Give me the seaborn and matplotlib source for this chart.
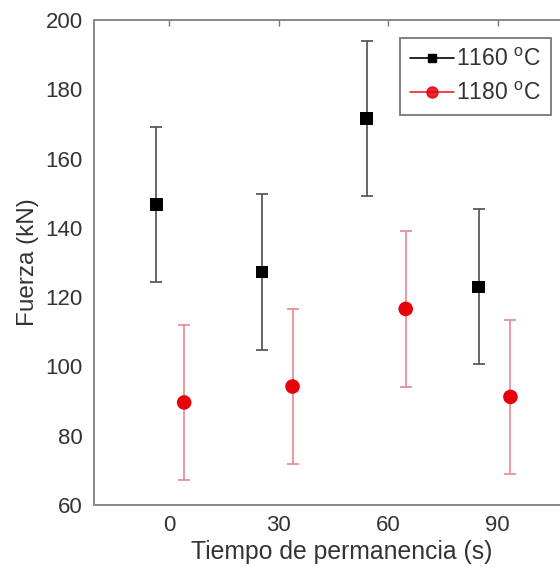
import matplotlib
matplotlib.use("Agg")
import matplotlib.pyplot as plt
from matplotlib.lines import Line2D
import pandas as pd
import seaborn as sns

# values
series = ["1160 $^{\\mathrm{o}}$C", "1180 $^{\\mathrm{o}}$C"]
x_1160 = [-3.5, 25.4, 54.1, 84.8]
y_1160 = [146.8, 127.3, 171.6, 123.0]
err_1160 = [22.4, 22.5, 22.4, 22.4]
x_1180 = [4.1, 33.8, 64.8, 93.5]
y_1180 = [89.6, 94.2, 116.6, 91.2]
err_1180 = [22.4, 22.5, 22.4, 22.3]
x_ticks = [0, 30, 60, 90]
y_ticks = [60, 80, 100, 120, 140, 160, 180, 200]

sns.set_theme(style="white")
plt.rcParams["font.family"] = ["Liberation Sans", "DejaVu Sans"]
plt.rcParams["mathtext.fontset"] = "custom"
plt.rcParams["mathtext.rm"] = "Liberation Sans"

df = pd.DataFrame({
    "t": x_1160 + x_1180,
    "f": y_1160 + y_1180,
    "serie": [series[0]] * 4 + [series[1]] * 4,
})

fig = plt.figure(figsize=(5.6, 5.67), dpi=100)
# the original is cropped: the right spine lies just past the picture edge
ax = fig.add_axes([94 / 560, 62 / 567, 496 / 560, 485 / 567])

# error bars first, markers on top
ax.errorbar(x_1160, y_1160, yerr=err_1160, fmt="none", ecolor="#5a5a5a",
            elinewidth=1.3, capsize=4, capthick=1.3, zorder=2)
ax.errorbar(x_1180, y_1180, yerr=err_1180, fmt="none", ecolor="#e8909a",
            elinewidth=1.3, capsize=4, capthick=1.3, zorder=2)

sns.scatterplot(data=df, x="t", y="f", hue="serie", style="serie", size="serie",
                palette={series[0]: "#000000", series[1]: "#e8000b"},
                markers={series[0]: "s", series[1]: "o"},
                sizes={series[0]: 80, series[1]: 110},
                linewidth=0, legend=False, ax=ax, zorder=3)

ax.set_xlim(-20.6, 115.3)
ax.set_ylim(60, 200)
ax.set_xticks(x_ticks)
ax.set_yticks(y_ticks)
ax.tick_params(direction="in", length=4, width=1, color="#777777",
               labelsize=16, labelcolor="#333333", top=True, right=True)
ax.tick_params(axis="y", pad=8)
ax.tick_params(axis="x", pad=7)
for sp in ax.spines.values():
    sp.set_color("#888888")
    sp.set_linewidth(1.4)

ax.set_xlabel("Tiempo de permanencia (s)", fontsize=17.8, color="#333333", labelpad=3)
ax.set_ylabel("Fuerza (kN)", fontsize=17.5, color="#333333", labelpad=5)

handles = [
    Line2D([], [], color="#000000", lw=1.2, marker="s", markersize=6),
    Line2D([], [], color="#e8000b", lw=1.2, marker="o", markersize=8, alpha=0.85),
]
leg = ax.legend(handles, series, loc="upper right", bbox_to_anchor=(0.921, 0.963),
                borderaxespad=0, fontsize=16.5, frameon=True, fancybox=False,
                handlelength=1.9, handletextpad=0.1, borderpad=0.45,
                labelspacing=0.45, labelcolor="#333333")
leg.get_frame().set_edgecolor("#555555")
leg.get_frame().set_linewidth(1.3)

fig.savefig("out.png", dpi=100)
